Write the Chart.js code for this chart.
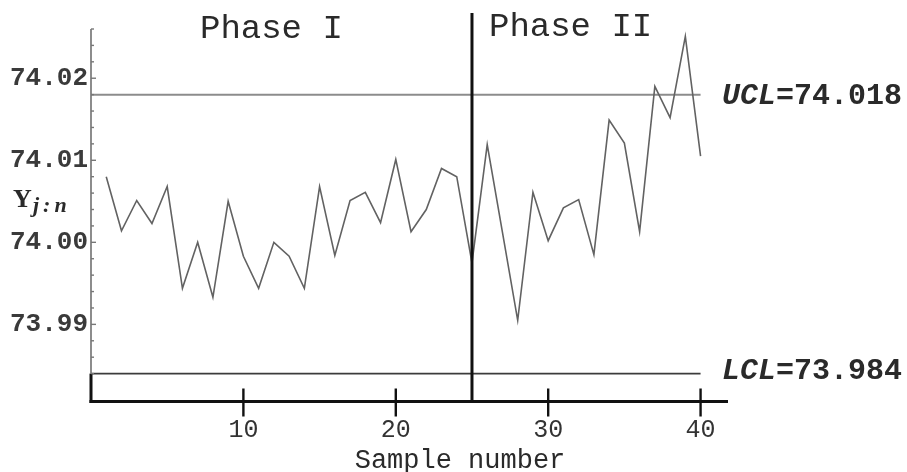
<!DOCTYPE html>
<html lang="en">
<head>
<meta charset="UTF-8">
<title>Control chart - Phase I / Phase II</title>
<script src="https://cdn.jsdelivr.net/npm/chart.js@4"></script>
<style>
  html, body { margin: 0; padding: 0; background: #ffffff; }
  #wrap { width: 907px; height: 472px; position: relative; }
</style>
</head>
<body>
<div id="wrap"><canvas id="chartCanvas"></canvas></div>
<script>
// sample numbers and the plotted statistic Y(j:n)
const samples = [1, 2, 3, 4, 5, 6, 7, 8, 9, 10,
                 11, 12, 13, 14, 15, 16, 17, 18, 19, 20,
                 21, 22, 23, 24, 25, 26, 27, 28, 29, 30,
                 31, 32, 33, 34, 35, 36, 37, 38, 39, 40];
const yValues = [74.0080, 74.0014, 74.0051, 74.0023, 74.0068, 73.9944, 74.0000, 73.9933, 74.0050, 73.9983,
                 73.9944, 74.0000, 73.9983, 73.9944, 74.0068, 73.9984, 74.0051, 74.0061, 74.0024, 74.0101,
                 74.0013, 74.0040, 74.0090, 74.0080, 73.9975, 74.0119, 74.0012, 73.9905, 74.0061, 74.0002,
                 74.0042, 74.0052, 73.9985, 74.0149, 74.0121, 74.0013, 74.0190, 74.0152, 74.0251, 74.0105];

// axis ticks
const xTicks = [10, 20, 30, 40];
const yTicks = [73.99, 74.00, 74.01, 74.02];

// control limits and the sample where Phase II starts
const ucl = 74.018;
const lcl = 73.984;
const phaseBreak = 25;
const phaseNames = ['Phase I', 'Phase II'];

const MONO = '"Liberation Mono", "DejaVu Sans Mono", monospace';
const SERIF = '"Liberation Serif", "DejaVu Serif", serif';

function seg(ctx, x1, y1, x2, y2) {
    ctx.beginPath();
    ctx.moveTo(x1, y1);
    ctx.lineTo(x2, y2);
    ctx.stroke();
}

// limits, axes, phase divider and the text around the plot
const controlPlugin = {
    id: 'controlPlugin',
    beforeDatasetsDraw(chart) {
        const { ctx, chartArea: a, scales: { x, y } } = chart;
        const xEnd = x.getPixelForValue(samples[samples.length - 1]);
        ctx.save();
        ctx.strokeStyle = '#8c8c8c';
        ctx.lineWidth = 2;
        const yU = y.getPixelForValue(ucl);
        seg(ctx, a.left, yU, xEnd, yU);
        ctx.strokeStyle = '#3c3c3c';
        ctx.lineWidth = 1.6;
        const yL = y.getPixelForValue(lcl);
        seg(ctx, a.left, yL, xEnd, yL);
        ctx.restore();
    },
    afterDatasetsDraw(chart) {
        const { ctx, chartArea: a, scales: { x, y } } = chart;
        const yL = y.getPixelForValue(lcl);
        ctx.save();

        // left axis: thin grey above LCL, heavy black below it
        ctx.strokeStyle = '#707070';
        ctx.lineWidth = 1.6;
        seg(ctx, a.left, a.top, a.left, yL);
        ctx.strokeStyle = '#111';
        ctx.lineWidth = 3;
        seg(ctx, a.left, yL, a.left, a.bottom + 1.5);

        // small inward ticks every 0.002
        ctx.strokeStyle = '#777';
        ctx.lineWidth = 1.4;
        for (let k = 0; k <= 22; k++) {
            const v = 73.982 + k * 0.002;
            if (v > y.max) break;
            const py = y.getPixelForValue(v);
            if (py > yL) continue;
            const major = Math.abs(v * 100 - Math.round(v * 100)) < 1e-6;
            seg(ctx, a.left, py, a.left + (major ? 5 : 3), py);
        }

        // bottom axis with ticks crossing it
        ctx.strokeStyle = '#111';
        ctx.lineWidth = 3;
        seg(ctx, a.left - 1.5, a.bottom, a.right, a.bottom);
        ctx.lineWidth = 2.4;
        xTicks.forEach(v => {
            const px = x.getPixelForValue(v);
            seg(ctx, px, a.bottom - 13, px, a.bottom + 15);
        });

        // phase divider
        const pb = x.getPixelForValue(phaseBreak);
        ctx.strokeStyle = '#111';
        ctx.lineWidth = 3;
        seg(ctx, pb, 13, pb, a.bottom);
        ctx.restore();
    },
    afterDraw(chart) {
        const { ctx, chartArea: a, scales: { x, y } } = chart;
        const pb = x.getPixelForValue(phaseBreak);
        ctx.save();
        ctx.fillStyle = '#2a2a2a';
        ctx.textBaseline = 'alphabetic';

        // phase headings
        ctx.font = `34px ${MONO}`;
        ctx.textAlign = 'left';
        ctx.fillText(phaseNames[0], 200, 38);
        ctx.fillText(phaseNames[1], pb + 17, 36);

        // limit labels: italic name, upright value
        const limitLabel = (name, value, py) => {
            let px = a.right - 6;
            ctx.font = `italic bold 30px ${MONO}`;
            ctx.fillText(name, px, py);
            px += ctx.measureText(name).width;
            ctx.font = `bold 30px ${MONO}`;
            ctx.fillText('=' + value.toFixed(3), px, py);
        };
        limitLabel('UCL', ucl, y.getPixelForValue(ucl) + 9);
        limitLabel('LCL', lcl, y.getPixelForValue(lcl) + 5);

        // y axis name Y with subscript j:n
        ctx.font = `bold 26px ${SERIF}`;
        ctx.fillText('Y', 13, 207);
        ctx.font = `italic bold 22px ${SERIF}`;
        ctx.letterSpacing = '4px';
        ctx.fillText('j:n', 33, 212);
        ctx.letterSpacing = '0px';

        // x axis name
        ctx.font = `27px ${MONO}`;
        ctx.textAlign = 'center';
        ctx.fillText('Sample number', 460, 468);
        ctx.restore();
    }
};

const ctx = document.getElementById('chartCanvas').getContext('2d');
new Chart(ctx, {
    type: 'line',
    data: {
        datasets: [{
            data: samples.map((s, i) => ({ x: s, y: yValues[i] })),
            borderColor: '#626262',
            borderWidth: 1.6,
            pointRadius: 0,
            tension: 0,
            fill: false
        }]
    },
    options: {
        responsive: true,
        maintainAspectRatio: false,
        animation: false,
        events: [],
        layout: { padding: { top: 29, right: 179, left: 0, bottom: 0 } },
        plugins: {
            legend: { display: false },
            tooltip: { enabled: false }
        },
        scales: {
            x: {
                type: 'linear',
                min: 0,
                max: 41.8,
                afterBuildTicks: scale => { scale.ticks = xTicks.map(v => ({ value: v })); },
                afterFit: scale => { scale.height = 70.5; },
                grid: { display: false, drawTicks: false },
                border: { display: false },
                ticks: {
                    padding: 14,
                    color: '#333',
                    font: { family: MONO, size: 25 },
                    callback: v => String(v)
                }
            },
            y: {
                min: 73.9806,
                max: 74.026,
                afterBuildTicks: scale => { scale.ticks = yTicks.map(v => ({ value: v })); },
                afterFit: scale => { scale.width = 91; },
                grid: { display: false, drawTicks: false },
                border: { display: false },
                ticks: {
                    padding: 3,
                    color: '#3a3a3a',
                    font: { family: MONO, size: 26, weight: 'bold' },
                    callback: v => Number(v).toFixed(2)
                }
            }
        }
    },
    plugins: [controlPlugin]
});
</script>
</body>
</html>
